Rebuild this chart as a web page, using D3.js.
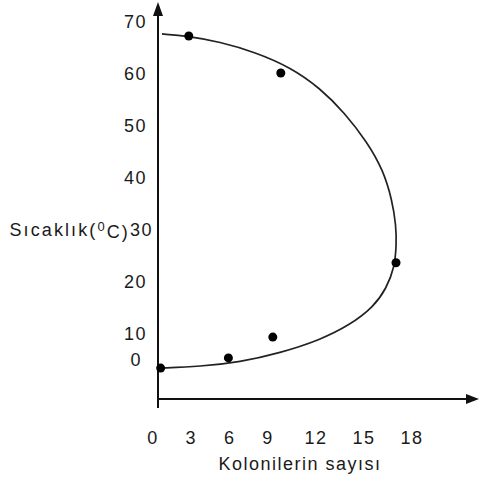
<!DOCTYPE html>
<html>
<head>
<meta charset="utf-8">
<script src="https://cdn.jsdelivr.net/npm/d3@7"></script>
<style>
  html, body { margin: 0; padding: 0; background: #fff; }
  svg { display: block; }
  text { font-family: "Liberation Sans", Arial, Helvetica, sans-serif; fill: #1a1a1a; }
</style>
</head>
<body>
<svg id="chart" width="479" height="480"></svg>
<script>
// Axis tick values
const xTicks = [0, 3, 6, 9, 12, 15, 18];
const yTicks = [0, 10, 20, 30, 40, 50, 60, 70];

// Measured points: colony count vs. temperature
const colonies = [0.6, 5.9, 9.3, 17.0, 9.8, 2.8];
const temps    = [-3.1, 0.8, 8.8, 23.7, 60.2, 67.3];

// Trend curve (colony count, temperature), traced from bottom to top
const curveX = [0.55, 3.7, 6.8, 9.75, 12.25, 14.1, 15.6, 16.4, 16.9, 17.03, 17.0, 16.75, 16.2, 15.2, 13.8, 12.25, 10.4, 8.0, 5.2, 2.7, 0.7];
const curveY = [-3.1, -2.5, -0.8, 2.7, 7.7, 11.7, 15.2, 18.8, 22.7, 27.1, 31.0, 35.8, 41.5, 46.9, 52.5, 57.3, 61.3, 64.2, 66.2, 67.3, 67.7];

const xTitle = "Kolonilerin sayısı";

const svg = d3.select("#chart");
const ink = "#111";

// Piecewise scales follow the hand-placed tick labels
const x = d3.scaleLinear().domain([0, 9, 18]).range([153, 268, 412]);
const y = d3.scaleLinear().domain([0, 10, 70]).range([360, 334, 22]);

const axisX = 158;   // vertical axis position
const axisY = 399;   // horizontal axis position

// Axes lines
svg.append("line")
  .attr("x1", axisX).attr("x2", axisX)
  .attr("y1", 12).attr("y2", 408)
  .attr("stroke", ink).attr("stroke-width", 2);
svg.append("line")
  .attr("x1", axisX - 1).attr("x2", 470)
  .attr("y1", axisY).attr("y2", axisY)
  .attr("stroke", ink).attr("stroke-width", 2);

// Arrow heads
svg.append("path")
  .attr("d", `M${axisX},2 L${axisX - 5},16 L${axisX + 5},16 Z`)
  .attr("fill", ink);
svg.append("path")
  .attr("d", `M479,${axisY} L466,${axisY - 5} L466,${axisY + 5} Z`)
  .attr("fill", ink);

// Curve (smoothed B-spline through the traced trend)
const pts = curveX.map((v, i) => [v, curveY[i]]);
const line = d3.line()
  .x(d => x(d[0]))
  .y(d => y(d[1]))
  .curve(d3.curveBasis);
svg.append("path")
  .datum(pts)
  .attr("d", line)
  .attr("fill", "none")
  .attr("stroke", "#222")
  .attr("stroke-width", 1.7);

// Points
svg.selectAll("circle.pt")
  .data(colonies.map((c, i) => ({ c, t: temps[i] })))
  .join("circle")
  .attr("class", "pt")
  .attr("cx", d => x(d.c))
  .attr("cy", d => y(d.t))
  .attr("r", 4.5)
  .attr("fill", "#000");

const fs = 18;
const ls = "1.5px";

// X tick labels
svg.selectAll("text.xt")
  .data(xTicks)
  .join("text")
  .attr("class", "xt")
  .attr("x", d => x(d))
  .attr("y", 438)
  .attr("dy", "0.35em")
  .attr("text-anchor", "middle")
  .style("font-size", fs + "px")
  .style("letter-spacing", ls)
  .text(d => d);

// X title
svg.append("text")
  .attr("x", 300)
  .attr("y", 464)
  .attr("dy", "0.35em")
  .attr("text-anchor", "middle")
  .style("font-size", fs + "px")
  .style("letter-spacing", ls)
  .text(xTitle);

// Y tick labels
const yt = svg.selectAll("text.yt")
  .data(yTicks)
  .join("text")
  .attr("class", "yt")
  .attr("x", d => d === 30 ? 153 : d === 0 ? 142 : 147)
  .attr("y", d => y(d))
  .attr("dy", "0.35em")
  .attr("text-anchor", "end")
  .style("font-size", fs + "px")
  .style("letter-spacing", ls)
  .text(d => d);

// Y title sits right before the "30" label
const t30 = yt.filter(d => d === 30).node();
const startOf30 = 153 - t30.getComputedTextLength();
const yTitle = svg.append("text")
  .attr("x", startOf30)
  .attr("y", y(30))
  .attr("dy", "0.35em")
  .attr("text-anchor", "end")
  .style("font-size", fs + "px")
  .style("letter-spacing", "2.1px");
yTitle.append("tspan").text("Sıcaklık(");
yTitle.append("tspan").attr("dy", "-0.4em").style("font-size", "13px").text("0");
yTitle.append("tspan").attr("dy", "0.4em").text("C)");
</script>
</body>
</html>
